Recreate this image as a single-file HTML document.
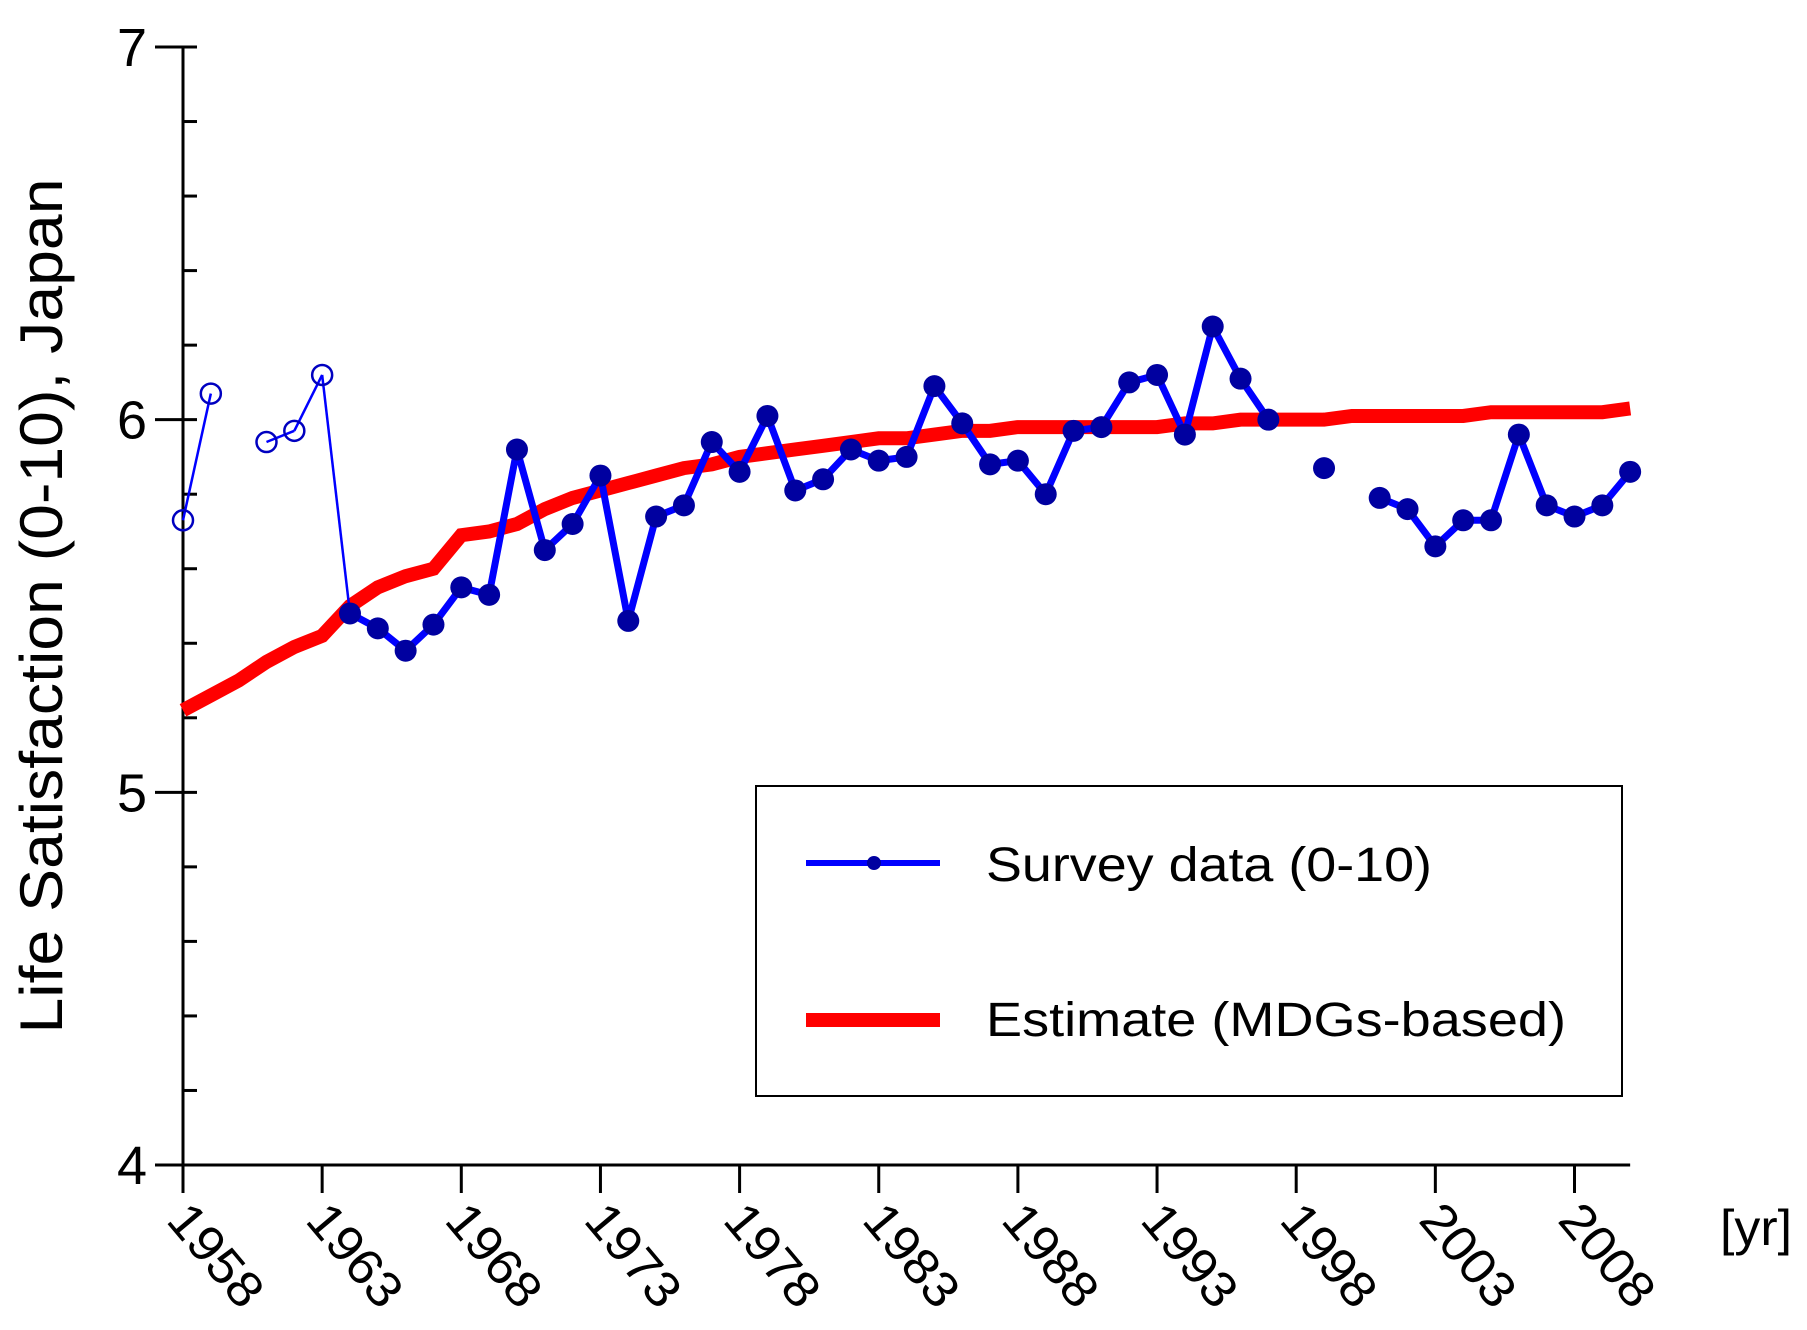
<!DOCTYPE html>
<html><head><meta charset="utf-8"><style>
html,body{margin:0;padding:0;background:#fff;}
svg{display:block;font-family:"Liberation Sans",Arial,sans-serif;}
</style></head><body>
<svg id="chart" width="1807" height="1330" viewBox="0 0 1807 1330" xmlns="http://www.w3.org/2000/svg">
<g id="axes"></g>
<g id="series"></g>
<text transform="translate(62,606) rotate(-90)" text-anchor="middle" font-size="60" textLength="855" lengthAdjust="spacingAndGlyphs">Life Satisfaction (0-10), Japan</text>
<text x="1720" y="1245" font-size="50" textLength="72" lengthAdjust="spacingAndGlyphs">[yr]</text>
<g>
<rect x="756" y="786" width="866" height="310" fill="#fff" stroke="#000" stroke-width="2"/>
<g>
<line x1="806" y1="863" x2="940" y2="863" stroke="#0000ff" stroke-width="6"/>
<circle cx="874" cy="863" r="7" fill="#0000a0"/>
<text x="986" y="881" font-size="48" textLength="446" lengthAdjust="spacingAndGlyphs">Survey data (0-10)</text>
</g>
<g>
<line x1="806" y1="1020" x2="940" y2="1020" stroke="#ff0000" stroke-width="14"/>
<text x="986" y="1036" font-size="48" textLength="580" lengthAdjust="spacingAndGlyphs">Estimate (MDGs-based)</text>
</g>
</g>
</svg>
<script>
const xTickYears = [1958,1963,1968,1973,1978,1983,1988,1993,1998,2003,2008];
const yTickLabels = [4,5,6,7];
const earlyYears = [1958,1959,1961,1962,1963];
const earlyValues = [5.73,6.07,5.94,5.97,6.12];
const surveyYears = [1964,1965,1966,1967,1968,1969,1970,1971,1972,1973,1974,1975,1976,1977,1978,1979,1980,1981,1982,1983,1984,1985,1986,1987,1988,1989,1990,1991,1992,1993,1994,1995,1996,1997,1999,2001,2002,2003,2004,2005,2006,2007,2008,2009,2010];
const surveyValues = [5.48,5.44,5.38,5.45,5.55,5.53,5.92,5.65,5.72,5.85,5.46,5.74,5.77,5.94,5.86,6.01,5.81,5.84,5.92,5.89,5.90,6.09,5.99,5.88,5.89,5.80,5.97,5.98,6.10,6.12,5.96,6.25,6.11,6.00,5.87,5.79,5.76,5.66,5.73,5.73,5.96,5.77,5.74,5.77,5.86];
const estimateYears = [1958,1959,1960,1961,1962,1963,1964,1965,1966,1967,1968,1969,1970,1971,1972,1973,1974,1975,1976,1977,1978,1979,1980,1981,1982,1983,1984,1985,1986,1987,1988,1989,1990,1991,1992,1993,1994,1995,1996,1997,1998,1999,2000,2001,2002,2003,2004,2005,2006,2007,2008,2009,2010];
const estimateValues = [5.22,5.26,5.30,5.35,5.39,5.42,5.50,5.55,5.58,5.60,5.69,5.70,5.72,5.76,5.79,5.81,5.83,5.85,5.87,5.88,5.90,5.91,5.92,5.93,5.94,5.95,5.95,5.96,5.97,5.97,5.98,5.98,5.98,5.98,5.98,5.98,5.99,5.99,6.00,6.00,6.00,6.00,6.01,6.01,6.01,6.01,6.01,6.02,6.02,6.02,6.02,6.02,6.03];

const NS="http://www.w3.org/2000/svg";
const X0=183, PX_PER_YR=27.83, Y_TOP=47, Y_BOT=1165;
function xs(yr){return X0+(yr-1958)*PX_PER_YR;}
function ys(v){return Y_BOT-(v-4)/3*(Y_BOT-Y_TOP);}
function mk(tag,attrs,parent){const e=document.createElementNS(NS,tag);for(const k in attrs)e.setAttribute(k,attrs[k]);parent.appendChild(e);return e;}
const axes=document.getElementById('axes'), series=document.getElementById('series');

let yl=mk('line',{x1:X0,y1:Y_TOP,x2:X0,y2:Y_BOT+28,stroke:'#000','stroke-width':3},axes);


let xl=mk('line',{x1:X0-28,y1:Y_BOT,x2:xs(2010),y2:Y_BOT,stroke:'#000','stroke-width':3},axes);


for(let v=4;v<=7.0001;v+=0.2){
  const y=ys(v); const major=Math.abs(v-Math.round(v))<1e-6;
  const t=mk('line',{x1:major?X0-28:X0,y1:y,x2:X0+14,y2:y,stroke:'#000','stroke-width':3},axes);
  
  
}
yTickLabels.forEach(v=>{
  const t=mk('text',{x:X0-36,y:ys(v)+19,'font-size':54,'text-anchor':'end'},axes);
  t.textContent=String(v);
  
  
});
xTickYears.forEach(yr=>{
  const x=xs(yr);
  const t=mk('line',{x1:x,y1:Y_BOT,x2:x,y2:Y_BOT+28,stroke:'#000','stroke-width':3},axes);
  
  
  const l=mk('text',{transform:`translate(${x-18},${Y_BOT+56}) rotate(50)`,'font-size':50,textLength:118,lengthAdjust:'spacingAndGlyphs'},axes);
  l.textContent=String(yr);
  
  
});

const est=mk('polyline',{points:estimateYears.map((y,i)=>xs(y)+','+ys(estimateValues[i])).join(' '),fill:'none',stroke:'#ff0000','stroke-width':14,'stroke-linejoin':'miter'},series);



function thin(a,b){const l=mk('line',{x1:a[0],y1:a[1],x2:b[0],y2:b[1],stroke:'#0000ff','stroke-width':2.5},series);
  
  }
const ep=earlyYears.map((y,i)=>[xs(y),ys(earlyValues[i])]);
for(let i=0;i<ep.length-1;i++){ if(earlyYears[i+1]-earlyYears[i]===1) thin(ep[i],ep[i+1]); }
thin(ep[ep.length-1],[xs(surveyYears[0]),ys(surveyValues[0])]);
ep.forEach(p=>{const c=mk('circle',{cx:p[0],cy:p[1],r:10,fill:'none',stroke:'#0000c0','stroke-width':2.5},series);
  
  });

let seg=[];
function flush(){ if(seg.length>1){const p=mk('polyline',{points:seg.join(' '),fill:'none',stroke:'#0000ff','stroke-width':7,'stroke-linejoin':'round'},series);
  
  } seg=[]; }
surveyYears.forEach((y,i)=>{
  if(i>0 && y-surveyYears[i-1]>1) flush();
  seg.push(xs(y)+','+ys(surveyValues[i]));
});
flush();
surveyYears.forEach((y,i)=>{
  const c=mk('circle',{cx:xs(y),cy:ys(surveyValues[i]),r:11,fill:'#0000a0'},series);
  
  
});
</script>
</body></html>
